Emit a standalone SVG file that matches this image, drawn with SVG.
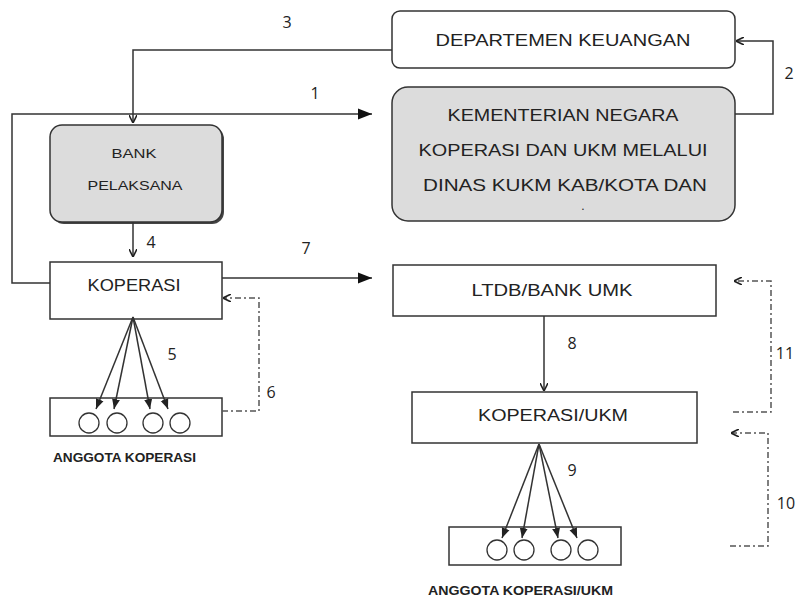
<svg xmlns="http://www.w3.org/2000/svg" width="796" height="599" viewBox="0 0 796 599">
<style>
.box{fill:#fff;stroke:#333;stroke-width:1.5}
.gray{fill:#dcdcdc;stroke:#333;stroke-width:1.5}
.t{font-family:"Liberation Sans",Arial,sans-serif;fill:#222;text-anchor:middle;dominant-baseline:central}
.n{font-family:"Open Sans","Liberation Sans",sans-serif;font-size:16px;fill:#222;text-anchor:middle;dominant-baseline:central}
.b{font-family:"Liberation Sans",Arial,sans-serif;font-weight:bold;font-size:12px;fill:#222;dominant-baseline:central}
.ln{fill:none;stroke:#333;stroke-width:1.5}
.dd{fill:none;stroke:#555;stroke-width:1.5;stroke-dasharray:6,3,2,3}
.c{fill:#fff;stroke:#333;stroke-width:1.3}
</style>
<defs>
<marker id="ah" viewBox="0 0 10 10" refX="10" refY="5" markerWidth="10" markerHeight="10" markerUnits="userSpaceOnUse" orient="auto">
<path d="M0,1 L10,5 L0,9 z" fill="#222"/>
</marker>
<marker id="as" viewBox="0 0 10 10" refX="10" refY="5" markerWidth="8" markerHeight="8" markerUnits="userSpaceOnUse" orient="auto">
<path d="M0,0 L10,5 L0,10" fill="none" stroke="#222" stroke-width="2"/>
</marker>
<marker id="ab" viewBox="0 0 10 10" refX="10" refY="5" markerWidth="14" markerHeight="14" markerUnits="userSpaceOnUse" orient="auto">
<path d="M0,1 L10,5 L0,9 z" fill="#111"/>
</marker>
</defs>
<rect width="796" height="599" fill="#fff"/>

<g id="departemen">
<rect class="box" x="392" y="11" width="343" height="57" rx="8"/>
<text class="t" x="563" y="40" font-size="17" textLength="255" lengthAdjust="spacingAndGlyphs">DEPARTEMEN  KEUANGAN</text>
</g>

<g id="kementerian">
<rect class="gray" x="392" y="87" width="343" height="134" rx="16"/>
<text class="t" x="563" y="115" font-size="17" textLength="231" lengthAdjust="spacingAndGlyphs">KEMENTERIAN  NEGARA</text>
<text class="t" x="563" y="150" font-size="17" textLength="289" lengthAdjust="spacingAndGlyphs">KOPERASI DAN UKM MELALUI</text>
<text class="t" x="565" y="185" font-size="17" textLength="284" lengthAdjust="spacingAndGlyphs">DINAS KUKM KAB/KOTA DAN</text>
<text class="t" x="583" y="206" font-size="12">.</text>
</g>

<g id="bank">
<rect x="52" y="127" width="172" height="97" rx="12" fill="#444"/>
<rect class="gray" x="50" y="125" width="172" height="97" rx="12"/>
<text class="t" x="134" y="153" font-size="13" textLength="45" lengthAdjust="spacingAndGlyphs">BANK</text>
<text class="t" x="135" y="185" font-size="13" textLength="95" lengthAdjust="spacingAndGlyphs">PELAKSANA</text>
</g>

<g id="koperasi">
<rect class="box" x="50" y="262" width="172" height="57"/>
<text class="t" x="134" y="285" font-size="17" textLength="93" lengthAdjust="spacingAndGlyphs">KOPERASI</text>
</g>

<g id="anggota-koperasi">
<rect class="box" x="50" y="398" width="172" height="38"/>
<circle class="c" cx="89" cy="423" r="10"/>
<circle class="c" cx="117" cy="423" r="10"/>
<circle class="c" cx="153" cy="423" r="10"/>
<circle class="c" cx="180" cy="423" r="10"/>
<text class="b" x="53" y="458" textLength="143" lengthAdjust="spacingAndGlyphs">ANGGOTA KOPERASI</text>
</g>

<g id="ltdb">
<rect class="box" x="393" y="265" width="323" height="51"/>
<text class="t" x="552" y="290" font-size="16" textLength="161" lengthAdjust="spacingAndGlyphs">LTDB/BANK UMK</text>
</g>

<g id="koperasi-ukm">
<rect class="box" x="412" y="392" width="285" height="51"/>
<text class="t" x="553" y="415" font-size="16" textLength="150" lengthAdjust="spacingAndGlyphs">KOPERASI/UKM</text>
</g>

<g id="anggota-ukm">
<rect class="box" x="449" y="527" width="172" height="38"/>
<circle class="c" cx="497" cy="550" r="10"/>
<circle class="c" cx="524" cy="550" r="10"/>
<circle class="c" cx="561" cy="550" r="10"/>
<circle class="c" cx="588" cy="550" r="10"/>
<text class="b" x="428" y="591" textLength="185" lengthAdjust="spacingAndGlyphs">ANGGOTA KOPERASI/UKM</text>
</g>

<g id="connectors">
<path class="ln" d="M392,50 H133 V123" marker-end="url(#as)"/>
<path class="ln" d="M50,283 H12 V114 H372" marker-end="url(#ab)"/>
<path class="ln" d="M735,114 H773 V41 H736" marker-end="url(#as)"/>
<path class="ln" d="M133,222 V257" marker-end="url(#as)"/>
<path class="ln" d="M222,278 H372" marker-end="url(#ab)"/>
<path class="ln" d="M133,317 L96,409" marker-end="url(#ah)"/>
<path class="ln" d="M133,317 L114,409" marker-end="url(#ah)"/>
<path class="ln" d="M133,317 L150,409" marker-end="url(#ah)"/>
<path class="ln" d="M133,317 L168,409" marker-end="url(#ah)"/>
<path class="dd" d="M222,411 H259 V298 H223" marker-end="url(#as)"/>
<path class="ln" d="M544,316 V391" marker-end="url(#as)"/>
<path class="ln" d="M539,444 L502,538" marker-end="url(#ah)"/>
<path class="ln" d="M539,444 L522,538" marker-end="url(#ah)"/>
<path class="ln" d="M539,444 L558,538" marker-end="url(#ah)"/>
<path class="ln" d="M539,444 L577,538" marker-end="url(#ah)"/>
<path class="dd" d="M733,412 H771 V281 H734" marker-end="url(#as)"/>
<path class="dd" d="M730,546 H768 V433 H731" marker-end="url(#as)"/>
<text class="n" x="287" y="22">3</text>
<text class="n" x="315" y="93">1</text>
<text class="n" x="789" y="73">2</text>
<text class="n" x="151" y="242">4</text>
<text class="n" x="306" y="248">7</text>
<text class="n" x="172" y="354">5</text>
<text class="n" x="271" y="392">6</text>
<text class="n" x="572" y="343">8</text>
<text class="n" x="785" y="353">11</text>
<text class="n" x="572" y="470">9</text>
<text class="n" x="786" y="503">10</text>
</g>
</svg>
